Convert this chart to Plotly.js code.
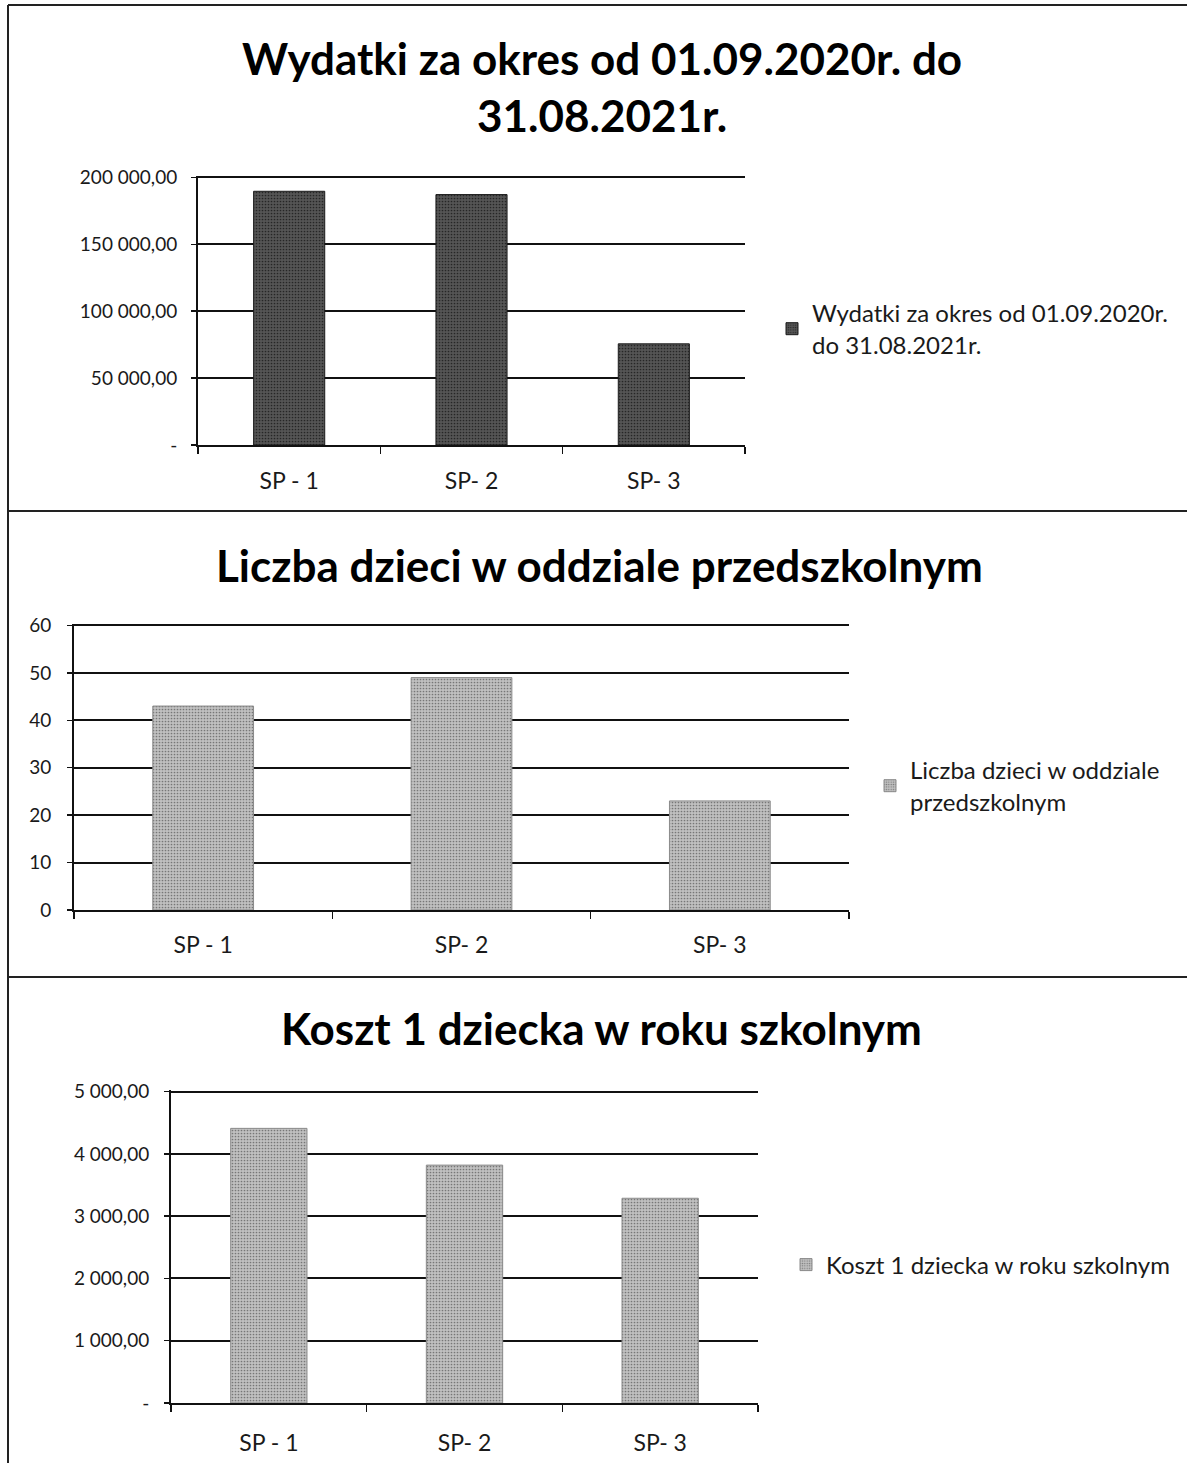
<!DOCTYPE html>
<html>
<head>
<meta charset="utf-8">
<script src="https://cdn.plot.ly/plotly-3.0.1.min.js"></script>
<style>
  html, body { margin: 0; padding: 0; background: #ffffff; }
  #chart { width: 1187px; height: 1463px; }
</style>
</head>
<body>
<div id="chart"></div>
<script>
// ---------- data ----------
const categories = ['SP - 1', 'SP- 2', 'SP- 3'];

const title1 = 'Wydatki za okres od 01.09.2020r. do<br>31.08.2021r.';
const legend1 = 'Wydatki za okres od 01.09.2020r.<br>do 31.08.2021r.';
const wydatki = [189590, 187110, 75590];
const yTicks1 = [0, 50000, 100000, 150000, 200000];
const yLabels1 = ['-', '50 000,00', '100 000,00', '150 000,00', '200 000,00'];

const title2 = 'Liczba dzieci w oddziale przedszkolnym';
const legend2 = 'Liczba dzieci w oddziale<br>przedszkolnym';
const liczbaDzieci = [43, 49, 23];
const yTicks2 = [0, 10, 20, 30, 40, 50, 60];
const yLabels2 = ['0', '10', '20', '30', '40', '50', '60'];

const title3 = 'Koszt 1 dziecka w roku szkolnym';
const legend3 = 'Koszt 1 dziecka w roku szkolnym';
const kosztDziecka = [4409, 3819, 3287];
const yTicks3 = [0, 1000, 2000, 3000, 4000, 5000];
const yLabels3 = ['-', '1 000,00', '2 000,00', '3 000,00', '4 000,00', '5 000,00'];

// ---------- layout helpers ----------
const W = 1187, H = 1463;
const px = v => v / W;
const py = v => 1 - v / H;
const FONT = 'Lato, Carlito, Calibri, "Open Sans", sans-serif';
const INK = '#111111';

function barTrace(x, y, name, xa, ya, leg, fill, edge, fg) {
  return {
    type: 'bar', x: x, y: y, name: name,
    xaxis: xa, yaxis: ya, legend: leg, showlegend: true,
    width: 0.39,
    marker: {
      color: fill,
      line: { color: edge, width: 1 },
      pattern: { shape: '.', fgcolor: fg, bgcolor: fill, size: 3, solidity: 0.25 }
    },
    hoverinfo: 'skip'
  };
}

const data = [
  barTrace(categories, wydatki, legend1, 'x', 'y', 'legend', '#555555', '#1a1a1a', '#262626'),
  barTrace(categories, liczbaDzieci, legend2, 'x2', 'y2', 'legend2', '#c0c0c0', '#8a8a8a', '#777777'),
  barTrace(categories, kosztDziecka, legend3, 'x3', 'y3', 'legend3', '#c0c0c0', '#8a8a8a', '#777777')
];

function xAxis(domain, anchor, standoff) {
  return {
    domain: domain, anchor: anchor, type: 'category',
    range: [-0.5, 2.5], fixedrange: true,
    showline: true, linecolor: INK, linewidth: 2,
    ticks: 'outside', ticklen: 7, tickwidth: 1.5, tickcolor: INK,
    tickson: 'boundaries', showgrid: false,
    ticklabelstandoff: standoff,
    tickfont: { family: FONT, size: 23, color: '#1a1a1a' }
  };
}
function yAxis(domain, anchor, range, vals, labels, standoff) {
  return {
    domain: domain, anchor: anchor, range: range, fixedrange: true,
    tickmode: 'array', tickvals: vals, ticktext: labels,
    showline: true, linecolor: INK, linewidth: 2,
    ticks: 'outside', ticklen: 5, tickwidth: 1.5, tickcolor: INK,
    showgrid: true, gridcolor: INK, gridwidth: 2,
    zeroline: false,
    ticklabelstandoff: standoff,
    tickfont: { family: FONT, size: 19, color: '#1a1a1a' }
  };
}
function legendBox(xPx, yPx) {
  return {
    x: px(xPx), y: py(yPx), xanchor: 'left', yanchor: 'middle',
    xref: 'paper', yref: 'paper',
    bgcolor: 'rgba(0,0,0,0)', borderwidth: 0,
    font: { family: FONT, size: 24, color: '#1a1a1a' },
    itemclick: false, itemdoubleclick: false
  };
}
function titleAnn(text, xPx, yPx, size) {
  return {
    text: text, x: px(xPx), y: py(yPx), xref: 'paper', yref: 'paper',
    xanchor: 'center', yanchor: 'middle', showarrow: false,
    font: { family: FONT, size: size, color: '#000000', weight: 'bold' }
  };
}
function hLine(yPx, x0, x1) {
  return { type: 'line', xref: 'paper', yref: 'paper', x0: px(x0), x1: px(x1), y0: py(yPx), y1: py(yPx),
           line: { color: '#222222', width: 2 } };
}

const layout = {
  width: W, height: H,
  margin: { l: 0, r: 0, t: 0, b: 0, pad: 0 },
  paper_bgcolor: '#ffffff', plot_bgcolor: '#ffffff',
  bargap: 0.61,
  font: { family: FONT, color: '#1a1a1a' },
  xaxis:  xAxis([px(198), px(745)], 'y', 14),
  yaxis:  yAxis([py(445), py(176)], 'x', [0, 201000], yTicks1, yLabels1, 10),
  xaxis2: xAxis([px(74), px(849)], 'y2', 13),
  yaxis2: yAxis([py(910), py(624)], 'x2', [0, 60.3], yTicks2, yLabels2, 12),
  xaxis3: xAxis([px(171), px(758)], 'y3', 18),
  yaxis3: yAxis([py(1403), py(1090)], 'x3', [0, 5025], yTicks3, yLabels3, 11),
  legend:  legendBox(772, 329),
  legend2: legendBox(870, 786),
  legend3: legendBox(786, 1265),
  annotations: [
    titleAnn(title1, 602, 86, 44),
    titleAnn(title2, 600, 565, 44),
    titleAnn(title3, 602, 1028, 44)
  ],
  shapes: [
    hLine(5, 8, W),
    hLine(511, 8, W),
    hLine(977, 8, W),
    { type: 'line', xref: 'paper', yref: 'paper', x0: px(8), x1: px(8), y0: py(5), y1: py(H),
      line: { color: '#222222', width: 2 } }
  ]
};

Plotly.newPlot('chart', data, layout, { staticPlot: true, displayModeBar: false });
</script>
</body>
</html>
